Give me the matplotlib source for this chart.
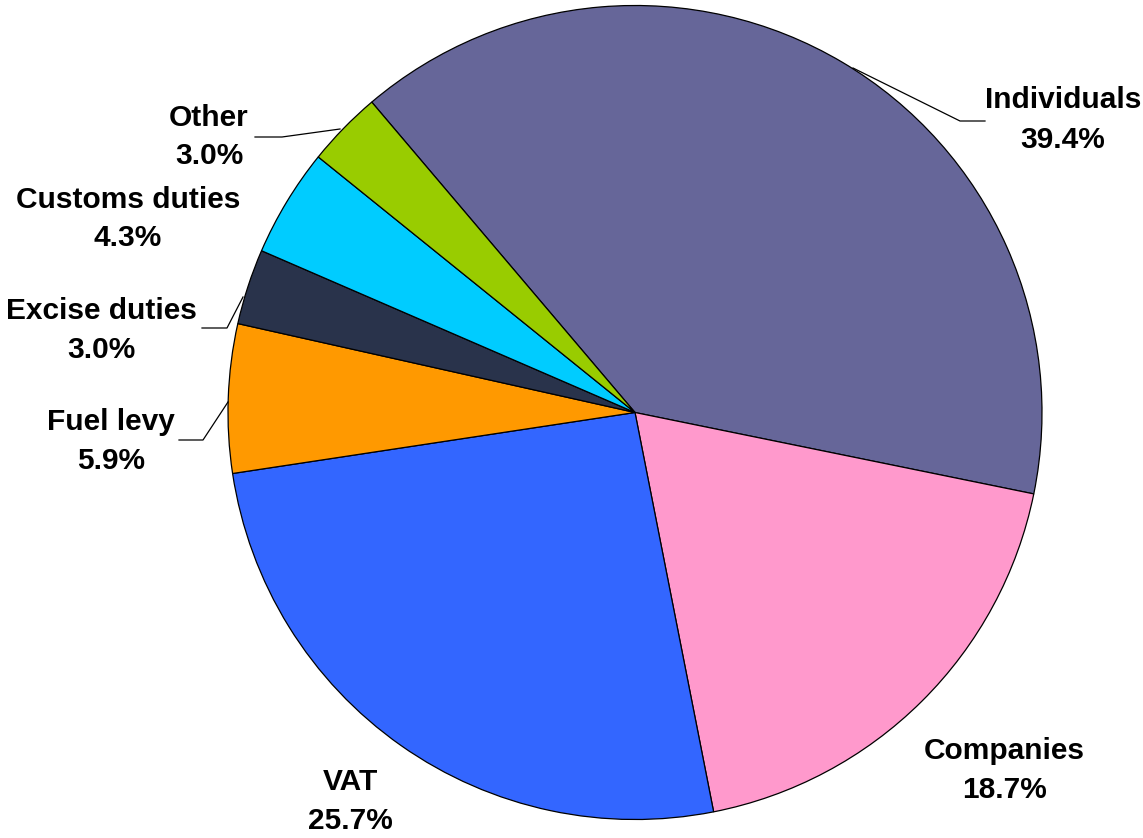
import numpy as np
import matplotlib
matplotlib.use("Agg")
import matplotlib.pyplot as plt

categories = ["Individuals", "Companies", "VAT", "Fuel levy", "Excise duties", "Customs duties", "Other"]
shares = [39.4, 18.7, 25.7, 5.9, 3.0, 4.3, 3.0]
colors = ["#666699", "#FF99CC", "#3366FF", "#FF9900", "#29334B", "#00CCFF", "#99CC00"]

W, H = 1143, 838
fig = plt.figure(figsize=(W / 100, H / 100), dpi=100)
cx, cy, R = 635, 412.5, 407
ax = fig.add_axes([(cx - R) / W, (H - cy - R) / H, 2 * R / W, 2 * R / H])
ax.axis("off")

start = 130.3
wedges, _ = ax.pie(shares, colors=colors, startangle=start, counterclock=False, radius=1,
                   center=(0, 0), frame=False,
                   wedgeprops=dict(edgecolor="black", linewidth=0.9))
ax.set_xlim(-1, 1)
ax.set_ylim(-1, 1)

def px(p):
    return ((p[0] - cx) / R, (cy - p[1]) / R)

# label centres (pixels) and leader polylines
label_pos = {
    "Individuals": (1063, 120),
    "Companies": (1004, 770),
    "VAT": (350, 801),
    "Fuel levy": (111, 441),
    "Excise duties": (101, 330),
    "Customs duties": (128, 219),
    "Other": (209, 137),
}
leaders = {
    "Individuals": ((853, 68), (960, 121), (985, 121)),
    "Other": ((340, 129), (282, 137), (255, 137)),
    "Excise duties": ((243, 297), (227, 328), (202, 328)),
    "Fuel levy": ((228, 402), (203, 440), (179, 440)),
}

for name, val in zip(categories, shares):
    x, y = px(label_pos[name])
    ax.text(x, y, f"{name}\n{val:.1f}%", ha="center", va="center",
            fontsize=21.5, fontweight="bold", family=["Liberation Sans", "DejaVu Sans"],
            linespacing=1.5, clip_on=False)
    if name in leaders:
        pts = [px(p) for p in leaders[name]]
        ax.plot([p[0] for p in pts], [p[1] for p in pts], color="black", lw=0.9,
                clip_on=False)

fig.savefig("out.png", dpi=100, facecolor="white")
